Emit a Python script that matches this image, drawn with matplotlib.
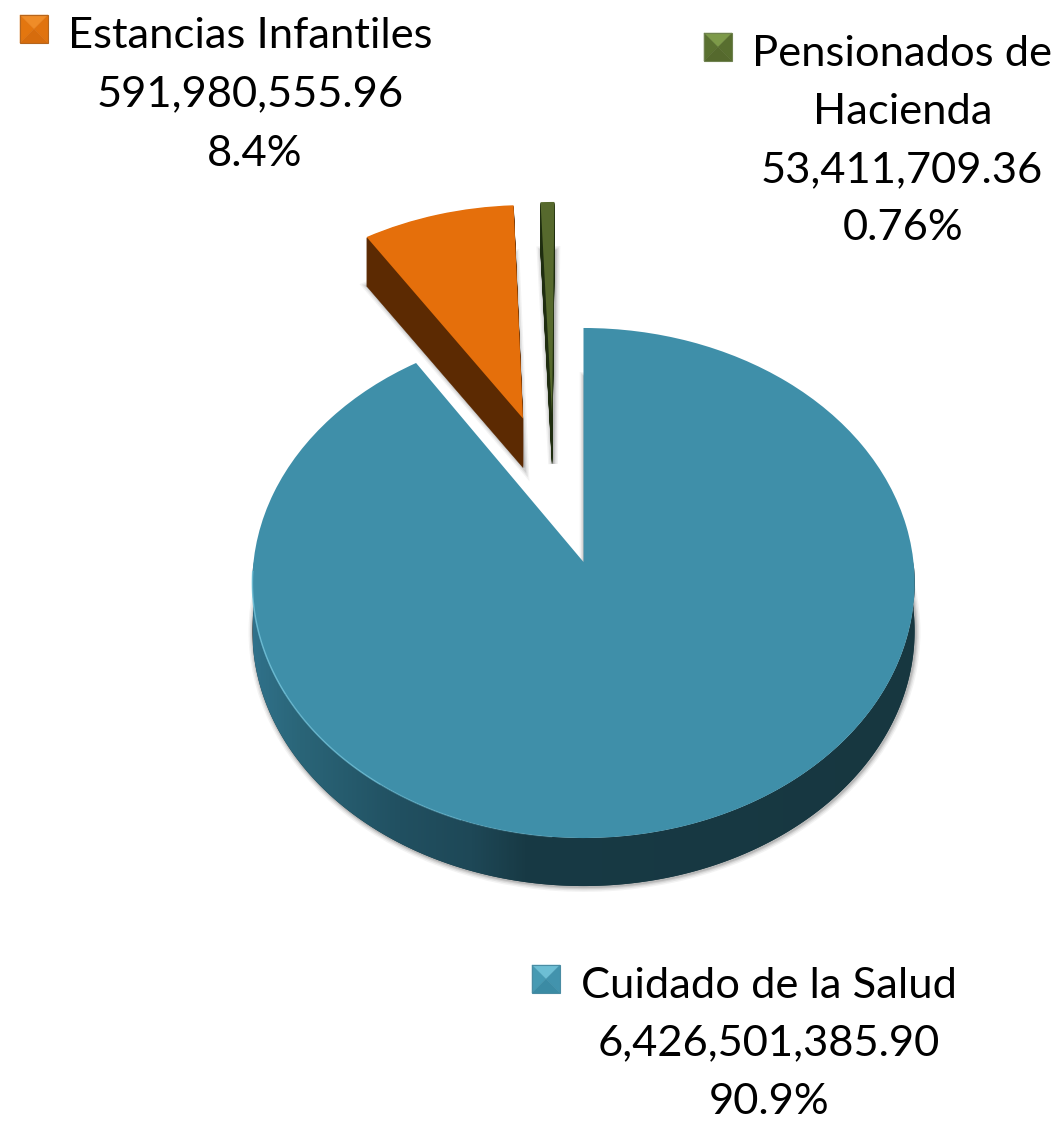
import numpy as np
import matplotlib
matplotlib.use("Agg")
import matplotlib.pyplot as plt
from matplotlib.patches import Wedge, Polygon
from matplotlib.transforms import Transform, Affine2D
from matplotlib.colors import LinearSegmentedColormap

categories = ["Cuidado de la Salud", "Estancias Infantiles", "Pensionados de\nHacienda"]
amounts = [6426501385.90, 591980555.96, 53411709.36]
amount_labels = ["6,426,501,385.90", "591,980,555.96", "53,411,709.36"]
percent_labels = ["90.9%", "8.4%", "0.76%"]
top_colors = ["#3f8fa9", "#e56f0b", "#56692d"]
wall_colors = ["#17363f", "#5c2a02", "#1f2d10"]
explode = [0.0, 0.62, 0.62]

W, H = 1063, 1121
DEPTH = 48
plt.rcParams["font.family"] = ["Lato", "DejaVu Sans"]


class Persp(Transform):
    """Tilted-disc projection of the pie plane onto the page."""
    input_dims = output_dims = 2
    is_affine = False
    has_inverse = False

    def transform_non_affine(self, v):
        v = np.asarray(v, float)
        k = 0.0824
        d = 1 + k * v[:, 1]
        return np.column_stack([583.5 + 330 * v[:, 0] / d, 562 - 253.3 * v[:, 1] / d])


fig = plt.figure(figsize=(W / 100, H / 100), dpi=100)
ax = fig.add_axes([0, 0, 1, 1])
wedges, _ = ax.pie(amounts, startangle=90, counterclock=False, explode=explode,
                   colors=top_colors, radius=1)
# the small slices sit slightly off their radial lines in the reference
cx, cy = wedges[1].center
wedges[1].set_center((cx - 0.003, cy + 0.004))
wedges[2].set_center((-0.1, 0.61))

persp = Persp()
base = persp + ax.transData


def shifted(dy, dx=0):
    return persp + Affine2D().translate(dx, dy) + ax.transData


def copy_wedge(w, tr, **kw):
    p = Wedge(w.center, w.r, w.theta1, w.theta2, transform=tr, **kw)
    ax.add_patch(p)
    return p


# soft shadows
for w in wedges:
    for lw, a in [(7, 0.07), (5, 0.10), (3, 0.14), (1.5, 0.18)]:
        copy_wedge(w, shifted(DEPTH + 1, 1), facecolor="none", edgecolor="#555555",
                   linewidth=lw, alpha=a, zorder=1)

# side walls of the two small slices
for w, c in zip(wedges[1:], wall_colors[1:]):
    for dy in range(1, DEPTH + 2):
        copy_wedge(w, shifted(dy), facecolor=c, edgecolor=c, linewidth=0.3, zorder=2)

# side wall of the main slice, with its left-to-right shading
t = np.linspace(0, -np.pi, 400)
arc = persp.transform(np.column_stack([np.cos(t), np.sin(t)]))
wall = np.vstack([arc, (arc + [0, DEPTH])[::-1]])
clip = Polygon(wall, closed=True, transform=ax.transData, facecolor=wall_colors[0],
               edgecolor="none", zorder=2)
ax.add_patch(clip)
stops = [(0.0, "#30718a"), (0.07, "#2a6578"), (0.22, "#215061"), (0.33, "#1e4857"),
         (0.41, "#183a45"), (1.0, "#173740")]
cmap = LinearSegmentedColormap.from_list("wall", stops)
im = ax.imshow(np.linspace(0, 1, 512)[None, :], cmap=cmap, aspect="auto",
               extent=(253, 915, 900, 560), zorder=3)
im.set_clip_path(clip)

# top faces
for w in wedges:
    w.set_transform(base)
    w.set_zorder(4)
    w.set_edgecolor("none")

# light rim on the lower left of the main slice, fading toward the bottom
for a0, a1, al in [(-178, -150, 0.8), (-150, -125, 0.7), (-125, -110, 0.45), (-110, -95, 0.2)]:
    t = np.radians(np.linspace(a0, a1, 80))
    rim = persp.transform(np.column_stack([np.cos(t), np.sin(t)]))
    ax.plot(rim[:, 0], rim[:, 1], color="#72c4dc", lw=1.1, alpha=al, zorder=5,
            solid_capstyle="butt")


def swatch(x0, y0, s, top, left, right, bottom, edge):
    x1, y1 = x0 + s, y0 + s
    xc, yc = x0 + s / 2, y0 + s / 2
    tris = [([(x0, y0), (x1, y0), (xc, yc)], top),
            ([(x0, y0), (x0, y1), (xc, yc)], left),
            ([(x1, y0), (x1, y1), (xc, yc)], right),
            ([(x0, y1), (x1, y1), (xc, yc)], bottom)]
    for pts, c in tris:
        ax.add_patch(Polygon(pts, closed=True, facecolor=c, edgecolor=c, lw=0.3, zorder=6))
    ax.add_patch(Polygon([(x0, y0), (x1, y0), (x1, y1), (x0, y1)], closed=True,
                         facecolor="none", edgecolor=edge, lw=0.8, zorder=7))


swatch(20, 15, 28, "#ef8c28", "#e3760f", "#e0730f", "#d66c0d", "#b5651d")
swatch(704, 33, 28, "#7d9a49", "#5a7130", "#586e2f", "#55692d", "#6f8250")
swatch(532, 965, 28, "#6dbed4", "#469ab3", "#4293ad", "#3b8ba4", "#4a8ca3")

FS = 31.3
for lines, xc, ys in [
    ([categories[1], amount_labels[1], percent_labels[1]], [250, 250, 255], [32, 91, 150]),
    (["Pensionados de", "Hacienda", amount_labels[2], percent_labels[2]],
     [902, 903, 902, 903], [50, 108, 167, 225]),
    ([categories[0], amount_labels[0], percent_labels[0]], [769, 769, 769], [982, 1040, 1099]),
]:
    for s, x, y in zip(lines, xc, ys):
        ax.text(x, y, s, ha="center", va="center_baseline", fontsize=FS, color="black", zorder=8)

ax.set_aspect("auto")
ax.set_xlim(0, W)
ax.set_ylim(H, 0)
ax.axis("off")
fig.savefig("out.png", dpi=100, facecolor="white")
